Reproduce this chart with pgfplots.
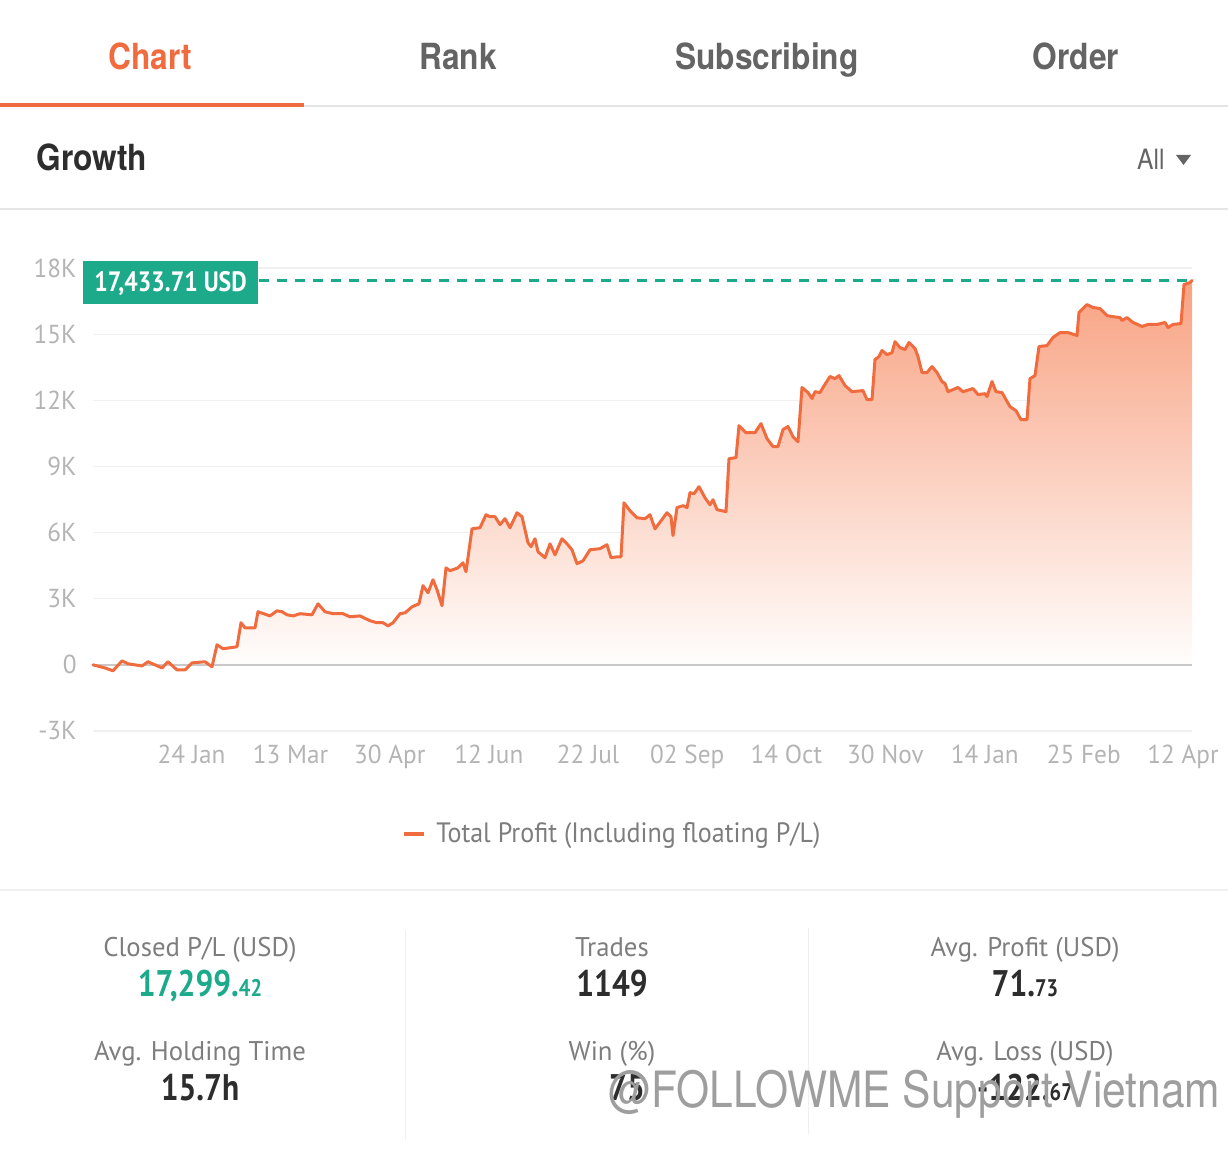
\documentclass[border=0pt]{standalone}
\usepackage{pgfplots}
\pgfplotsset{compat=1.18}
\usepackage{pgfplotstable}
\usepackage{fontspec}
\setmainfont{PT Sans}
\newfontfamily\din[FakeStretch=0.85]{PT Sans}
\newfontfamily\dint[FakeStretch=0.97]{PT Sans}
\newfontfamily\dinl[FakeStretch=0.93]{PT Sans}
\newfontfamily\dins[FakeStretch=0.99]{PT Sans}
\newfontfamily\hel[FakeStretch=0.88]{TeX Gyre Heros}
\newfontfamily\wm[FakeStretch=0.85]{TeX Gyre Heros}
\definecolor{lineor}{RGB}{240,108,62}
\definecolor{tealc}{RGB}{29,170,139}
\definecolor{tabgray}{RGB}{100,100,100}
\definecolor{tickgray}{RGB}{180,180,180}
\definecolor{lgray}{RGB}{125,125,125}
\definecolor{sepc}{RGB}{228,228,228}
\definecolor{gridc}{RGB}{240,240,240}
\definecolor{zeroc}{RGB}{200,200,200}
\definecolor{fillor}{RGB}{248,162,130}
\definecolor{darkt}{RGB}{45,45,45}

\pgfplotstableread{
x y
0 0
12 -140
20 -270
29 180
35 50
49 -50
55 140
69 -140
75 140
84 -230
92 -230
99 90
112 140
119 -90
124 910
130 730
144 820
148 1910
152 1680
162 1680
165 2410
177 2220
184 2450
189 2410
194 2270
200 2220
207 2320
219 2270
225 2770
232 2410
240 2320
250 2320
257 2180
267 2220
277 2000
284 1910
290 1910
295 1770
300 1910
307 2320
312 2360
319 2630
326 2770
330 3590
335 3270
340 3860
344 3410
349 2680
353 4400
357 4270
365 4400
370 4630
373 4220
379 6170
387 6220
393 6810
397 6720
402 6720
407 6360
412 6630
417 6220
424 6900
429 6720
435 5540
438 5360
442 5720
445 5130
452 4860
457 5490
462 4990
469 5720
474 5490
479 5220
484 4590
490 4720
497 5220
507 5270
514 5450
518 4860
524 4900
528 4900
531 7350
537 6990
544 6670
552 6630
557 6810
562 6170
574 6900
578 6720
580 5860
584 7130
590 7220
594 7130
597 7810
601 7760
606 8080
612 7580
617 7260
620 7490
624 7040
633 6950
636 9350
643 9400
646 10850
653 10530
662 10530
668 10940
674 10260
680 9900
685 9900
690 10670
695 10810
700 10350
705 10120
709 12580
715 12350
719 12080
722 12390
727 12350
730 12580
737 13080
742 12980
746 13120
752 12670
759 12390
770 12440
774 12030
779 12030
782 13850
786 13980
789 14260
794 14070
799 14160
802 14660
807 14390
812 14300
816 14620
822 14350
825 13980
829 13260
834 13260
839 13530
844 13260
849 12850
852 12760
855 12390
865 12580
870 12390
880 12530
885 12260
892 12300
894 12170
899 12850
903 12390
909 12350
917 11710
923 11530
928 11120
934 11120
937 12980
942 13120
946 14440
954 14480
960 14850
967 15070
975 15070
984 14940
986 15980
994 16340
1000 16210
1007 16160
1014 15840
1019 15800
1027 15750
1029 15620
1034 15750
1040 15530
1049 15350
1055 15440
1064 15440
1072 15530
1075 15300
1080 15440
1088 15480
1091 17250
1097 17340
1099 17433.71
}\profit

\begin{document}
\begin{tikzpicture}
\begin{scope}[x=0.5pt,y=0.5pt]
\useasboundingbox (0,0) rectangle (1228,-1154);
\end{scope}

\begin{axis}[
  at={(46.5pt,-365.5pt)}, anchor=south west,
  scale only axis, width=549.5pt, height=231.5pt,
  xmin=0, xmax=1099, ymin=-3000, ymax=18000,
  scaled y ticks=false, scaled x ticks=false,
  axis line style={draw=none},
  major tick length=0pt,
  ytick={-3000,0,3000,6000,9000,12000,15000,18000},
  yticklabels={-3K,0,3K,6K,9K,12K,15K,18K},
  xtick={98.5,197.6,296.8,395.9,495.1,594.2,693.4,792.5,891.7,990.8,1090},
  xticklabels={24 Jan,13 Mar,30 Apr,12 Jun,22 Jul,02 Sep,14 Oct,30 Nov,14 Jan,25 Feb,12 Apr},
  ymajorgrids, grid style={color=gridc, line width=0.6pt},
  /pgf/number format/assume math mode=true,
  tick label style={font=\dint\fontsize{13}{15}\selectfont, text=tickgray},
  yticklabel style={anchor=east, inner sep=0pt, xshift=-8pt},
  xticklabel style={anchor=base, inner sep=0pt, yshift=-16.5pt},
  clip=false,
]
\addplot[draw=none, top color=fillor, bottom color=white] table[x=x,y=y] {\profit} \closedcycle;
\addplot[zeroc, line width=1pt] coordinates {(0,0) (1099,0)};
\addplot[lineor, line width=1.5pt, line join=round, line cap=round] table[x=x,y=y] {\profit};
\addplot[tealc, line width=1.1pt, dash pattern=on 5pt off 4pt] coordinates {(166,17433.71) (1099,17433.71)};
\end{axis}

\begin{scope}[x=0.5pt,y=0.5pt]
% tabs
\node[anchor=base, text=lineor, font=\hel\bfseries\fontsize{18}{20}\selectfont] at (150,-70) {Chart};
\node[anchor=base, text=tabgray, font=\hel\bfseries\fontsize{18}{20}\selectfont] at (458,-70) {Rank};
\node[anchor=base, text=tabgray, font=\hel\bfseries\fontsize{18}{20}\selectfont] at (767,-70) {Subscribing};
\node[anchor=base, text=tabgray, font=\hel\bfseries\fontsize{18}{20}\selectfont] at (1076,-70) {Order};
\fill[sepc] (304,-105) rectangle (1228,-107);
\fill[lineor] (0,-103) rectangle (304,-107);
% Growth header
\node[anchor=base west, inner sep=0pt, text=darkt, font=\hel\bfseries\fontsize{18}{20}\selectfont] at (36,-171) {Growth};
\node[anchor=base east, inner sep=0pt, text=tabgray, font=\hel\fontsize{14}{16}\selectfont] at (1165,-170) {All};
\fill[tabgray] (1176,-155) -- (1191,-155) -- (1183.5,-165) -- cycle;
\fill[sepc] (0,-208) rectangle (1228,-210);
% value label
\fill[tealc] (83,-261) rectangle (258,-304);
\node[anchor=base, inner sep=0pt, text=white, font=\din\bfseries\fontsize{14}{16}\selectfont] at (170.5,-292) {17,433.71 USD};
% legend
\draw[lineor, line width=2pt] (404,-834) -- (424,-834);
\node[anchor=base west, inner sep=0pt, text=lgray, font=\dinl\fontsize{14}{16}\selectfont] at (436,-843) {Total Profit (Including floating P/L)};
\fill[gridc] (0,-889) rectangle (1228,-891);
% stats
\fill[gridc] (404.5,-930) rectangle (405.5,-1140);
\fill[gridc] (807.5,-928) rectangle (808.5,-1135);
\tikzset{lab/.style={anchor=base, inner sep=0pt, text=lgray, font=\dins\fontsize{13.5}{16}\selectfont},
         val/.style={anchor=base, inner sep=0pt, font=\din\bfseries\fontsize{18.5}{20}\selectfont}}
\newcommand{\sm}[1]{{\fontsize{12}{14}\selectfont #1}}
\node[lab] at (200,-957) {Closed P/L (USD)};
\node[lab] at (612,-957) {Trades};
\node[lab] at (1025,-957) {Avg. Profit (USD)};
\node[val, text=tealc] at (200,-997) {17,299.\sm{42}};
\node[val, text=darkt] at (612,-997) {1149};
\node[val, text=darkt] at (1025,-997) {71.\sm{73}};
\node[lab] at (200,-1061) {Avg. Holding Time};
\node[lab] at (612,-1061) {Win (\%)};
\node[lab] at (1025,-1061) {Avg. Loss (USD)};
\node[val, text=darkt] at (200,-1101) {15.7h};
\node[val, text=darkt] at (627,-1101) {75};
\node[val, text=darkt] at (1025,-1101) {-122.\sm{67}};
% watermark
\node[anchor=base west, inner sep=0pt, text=black!38, font=\wm\fontsize{25}{28}\selectfont] at (608,-1108) {@FOLLOWME Support Vietnam};
\end{scope}
\end{tikzpicture}
\end{document}
